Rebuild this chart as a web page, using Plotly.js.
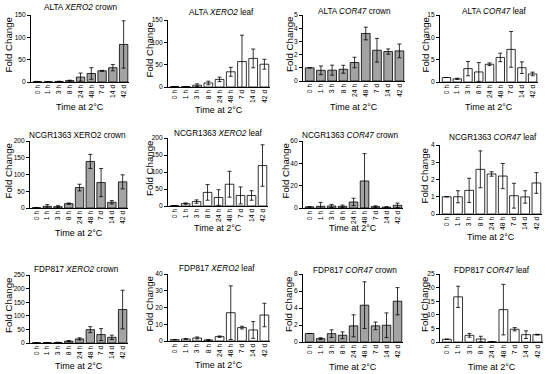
<!DOCTYPE html>
<html>
<head>
<meta charset="utf-8">
<script src="https://cdn.plot.ly/plotly-3.0.1.min.js"></script>
<style>html,body{margin:0;padding:0;background:#fff;}#chart{width:550px;height:374px;}</style>
</head>
<body>
<div id="chart"></div>
<script>
// Time points (x categories)
const timeLabels = ["0 h", "1 h", "3 h", "8 h", "24 h", "48 h", "7 d", "14 d", "42 d"];

// ALTA
const altaXero2Crown    = [1, 0.6, 1.2, 3, 11, 19, 25, 32, 84];
const altaXero2CrownErr = [0.3, 0.3, 0.5, 1, 9, 13, 1, 7, 53];
const altaXero2Leaf     = [1, 0.8, 4, 9, 17, 34, 57, 64, 51];
const altaXero2LeafErr  = [0.2, 0.3, 3, 4, 5, 10, 59, 21, 11];
const altaCor47Crown    = [1, 0.81, 0.82, 0.89, 1.4, 3.6, 2.33, 2.23, 2.28];
const altaCor47CrownErr = [0, 0.33, 0.38, 0.3, 0.4, 0.48, 0.9, 0.2, 0.52];
const altaCor47Leaf     = [1, 0.7, 3.0, 2.25, 3.97, 5.5, 7.3, 3.2, 1.8];
const altaCor47LeafErr  = [0, 0.15, 1.6, 2.1, 0.3, 0.95, 4.0, 1.3, 0.4];

// NCGR1363
const ncgrXero2Crown    = [1, 5, 4, 13, 61, 139, 76, 17, 78];
const ncgrXero2CrownErr = [0.3, 5, 3, 2, 10, 21, 42, 5, 21];
const ncgrXero2Leaf     = [1, 7, 13, 40, 25, 64, 31, 31, 119];
const ncgrXero2LeafErr  = [0.3, 2, 5, 23, 23, 38, 25, 14, 61];
const ncgrCor47Crown    = [1, 1.5, 1.8, 1.5, 5.4, 24.2, 1.2, 0.8, 2.4];
const ncgrCor47CrownErr = [0, 3.5, 1.4, 1.1, 3.3, 24.5, 0.8, 0.4, 2];
const ncgrCor47Leaf     = [1, 1.0, 1.37, 2.59, 2.32, 2.2, 1.06, 0.99, 1.8];
const ncgrCor47LeafErr  = [0, 0.35, 0.7, 1.07, 0.13, 0.73, 0.72, 0.36, 0.6];

// FDP817
const fdpXero2Crown     = [1, 1.5, 2, 7, 15, 49, 31, 21, 123];
const fdpXero2CrownErr  = [0.3, 0.5, 0.5, 2, 4, 11, 22, 8, 71];
const fdpXero2Leaf      = [0.8, 1.2, 1.8, 0.6, 2.6, 16.9, 8, 6.6, 15.5];
const fdpXero2LeafErr   = [0.1, 0.2, 0.6, 0.3, 0.4, 16, 0.8, 5, 7];
const fdpCor47Crown     = [1.0, 0.4, 0.98, 0.79, 1.9, 4.33, 1.9, 1.97, 4.8];
const fdpCor47CrownErr  = [0, 0.1, 0.45, 0.4, 1.3, 2.75, 0.45, 1.45, 1.6];
const fdpCor47Leaf      = [1.0, 16.6, 2.46, 1.1, 0.1, 11.9, 4.7, 2.7, 2.7];
const fdpCor47LeafErr   = [0, 3.9, 0.7, 1, 0, 9.3, 0.6, 1.4, 0.15];

const panelTitles = [
  "ALTA <i>XERO2</i> crown", "ALTA <i>XERO2</i> leaf", "ALTA <i>COR47</i> crown", "ALTA <i>COR47</i> leaf",
  "NCGR1363 XERO2 crown", "NCGR1363 <i>XERO2</i> leaf", "NCGR1363 <i>COR47</i> crown", "NCGR1363 <i>COR47</i> leaf",
  "FDP817 <i>XERO2</i> crown", "FDP817 <i>XERO2</i> leaf", "FDP817 <i>COR47</i> crown", "FDP817 <i>COR47</i> leaf"
];
const yAxisTitle = "Fold Change";
const xAxisTitle = "Time at 2°C";

const series = [
  [altaXero2Crown, altaXero2CrownErr], [altaXero2Leaf, altaXero2LeafErr],
  [altaCor47Crown, altaCor47CrownErr], [altaCor47Leaf, altaCor47LeafErr],
  [ncgrXero2Crown, ncgrXero2CrownErr], [ncgrXero2Leaf, ncgrXero2LeafErr],
  [ncgrCor47Crown, ncgrCor47CrownErr], [ncgrCor47Leaf, ncgrCor47LeafErr],
  [fdpXero2Crown, fdpXero2CrownErr], [fdpXero2Leaf, fdpXero2LeafErr],
  [fdpCor47Crown, fdpCor47CrownErr], [fdpCor47Leaf, fdpCor47LeafErr]
];
const yMax  = [150, 150, 5, 15, 200, 200, 60, 4, 250, 40, 8, 25];
const yStep = [50, 50, 1, 5, 50, 50, 20, 1, 50, 10, 2, 5];

// layout geometry (pixels): [x0, x1, yTop, yBottom, titleX, titleY, yTitleX, xTitleY]
const geom = [
  [31, 129, 15, 82, 80, 8, 8, 107],
  [168, 270, 20, 87, 221, 12, 149, 110],
  [303, 405, 15, 81, 354, 11, 289, 107],
  [440, 538, 15, 82, 494, 11, 425, 107],
  [30, 128, 141, 208, 77, 135, 8, 233],
  [168, 268, 138, 206, 218, 133, 149, 228],
  [303, 403, 141, 208, 350, 135, 285, 227.5],
  [440, 542, 145, 214, 493, 138, 424, 237],
  [30, 128, 275, 343, 76, 269, 8, 366],
  [168, 270, 274, 341, 217, 268, 149, 365],
  [303, 403, 274, 342, 355, 270, 288, 367],
  [440, 543, 274, 342, 492, 270, 424, 367]
];

const W = 550, H = 374;
const FONT = "Liberation Sans, Arial, sans-serif";
const GRAY = "#a3a3a3";

const traces = [];
const layout = {
  width: W, height: H,
  margin: {l: 0, r: 0, t: 0, b: 0},
  paper_bgcolor: "#fff", plot_bgcolor: "rgba(0,0,0,0)",
  showlegend: false,
  font: {family: FONT, color: "#000"},
  annotations: []
};

series.forEach((s, i) => {
  const n = i + 1;
  const xa = "x" + (n === 1 ? "" : n), ya = "y" + (n === 1 ? "" : n);
  const g = geom[i];
  const isCrown = (i % 2 === 0);
  traces.push({
    type: "bar", x: timeLabels, y: s[0], xaxis: xa, yaxis: ya,
    width: 0.78,
    marker: {color: isCrown ? GRAY : "#ffffff", line: {color: "#000", width: 0.8}},
    error_y: {type: "data", array: s[1], visible: true, color: "#000", thickness: 0.8, width: 2},
    hoverinfo: "none"
  });
  layout["xaxis" + (n === 1 ? "" : n)] = {
    domain: [g[0] / W, g[1] / W], anchor: ya,
    type: "category", range: [-0.6, 8.5],
    showline: true, linecolor: "#000", linewidth: 1,
    ticks: "", tickangle: -90, tickfont: {size: 6.8, family: FONT},
    ticklabelstandoff: -1,
    showgrid: false, zeroline: false, fixedrange: true
  };
  layout["yaxis" + (n === 1 ? "" : n)] = {
    domain: [1 - g[3] / H, 1 - g[2] / H], anchor: xa,
    range: [0, yMax[i]], tick0: 0, dtick: yStep[i],
    showline: true, linecolor: "#000", linewidth: 1,
    ticks: "outside", ticklen: 3, tickwidth: 1, tickcolor: "#000",
    tickfont: {size: 6.6, family: FONT},
    showgrid: false, zeroline: false, fixedrange: true
  };
  layout.annotations.push({
    text: panelTitles[i], xref: "paper", yref: "paper",
    x: g[4] / W, y: 1 - g[5] / H, xanchor: "center", yanchor: "middle",
    showarrow: false, font: {size: 8.2, family: FONT}
  });
  layout.annotations.push({
    text: yAxisTitle, xref: "paper", yref: "paper", textangle: -90,
    x: g[6] / W, y: 1 - ((g[2] + g[3]) / 2 - 3) / H, xanchor: "center", yanchor: "middle",
    showarrow: false, font: {size: 9.7, family: FONT}
  });
  layout.annotations.push({
    text: xAxisTitle, xref: "paper", yref: "paper",
    x: ((g[0] + g[1]) / 2) / W, y: 1 - g[7] / H, xanchor: "center", yanchor: "middle",
    showarrow: false, font: {size: 9, family: FONT}
  });
});

Plotly.newPlot("chart", traces, layout, {staticPlot: true, displayModeBar: false});
</script>
</body>
</html>
